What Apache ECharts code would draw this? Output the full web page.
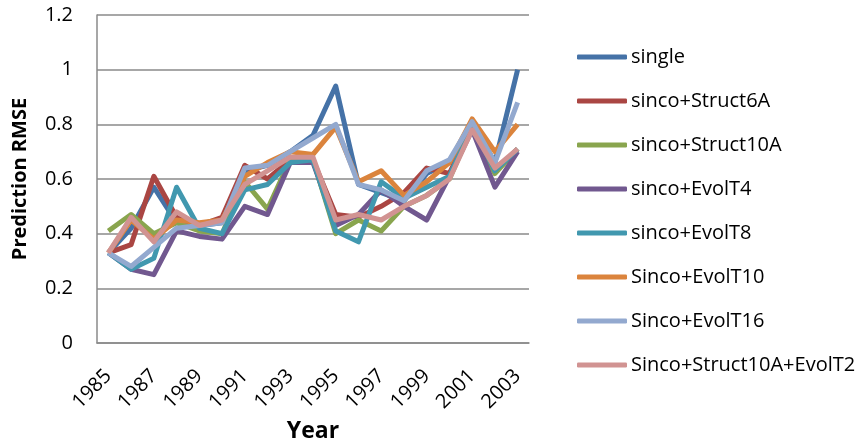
<!DOCTYPE html>
<html>
<head>
<meta charset="utf-8">
<title>Prediction RMSE by year</title>
<script src="https://cdn.jsdelivr.net/npm/echarts@6/dist/echarts.min.js"></script>
<style>
  html, body { margin: 0; padding: 0; background: #ffffff; }
  #chart { width: 868px; height: 448px; }
</style>
</head>
<body>
<div id="chart"></div>
<script>
// Years on the category axis
const years = ['1985','1986','1987','1988','1989','1990','1991','1992','1993','1994',
               '1995','1996','1997','1998','1999','2000','2001','2002','2003'];

// Prediction RMSE per method, one value per year
const single        = [0.33, 0.42, 0.57, 0.44, 0.43, 0.44, 0.63, 0.65, 0.70, 0.76, 0.94, 0.58, 0.55, 0.52, 0.62, 0.66, 0.81, 0.66, 1.00];
const struct6A      = [0.33, 0.36, 0.61, 0.46, 0.43, 0.46, 0.65, 0.60, 0.67, 0.67, 0.47, 0.46, 0.50, 0.55, 0.64, 0.62, 0.80, 0.63, 0.71];
const struct10A     = [0.41, 0.47, 0.40, 0.44, 0.41, 0.40, 0.59, 0.49, 0.67, 0.67, 0.40, 0.45, 0.41, 0.50, 0.54, 0.60, 0.79, 0.62, 0.71];
const evolT4        = [0.33, 0.27, 0.25, 0.41, 0.39, 0.38, 0.50, 0.47, 0.66, 0.66, 0.43, 0.47, 0.56, 0.50, 0.45, 0.61, 0.78, 0.57, 0.70];
const evolT8        = [0.33, 0.27, 0.31, 0.57, 0.42, 0.40, 0.56, 0.58, 0.66, 0.67, 0.41, 0.37, 0.59, 0.53, 0.57, 0.61, 0.80, 0.63, 0.71];
const evolT10       = [0.33, 0.45, 0.38, 0.45, 0.44, 0.45, 0.61, 0.66, 0.70, 0.69, 0.79, 0.59, 0.63, 0.54, 0.59, 0.66, 0.82, 0.70, 0.80];
const evolT16       = [0.33, 0.28, 0.35, 0.42, 0.43, 0.44, 0.64, 0.65, 0.70, 0.75, 0.80, 0.58, 0.56, 0.52, 0.63, 0.67, 0.81, 0.66, 0.88];
const struct10AT2   = [0.33, 0.46, 0.37, 0.48, 0.43, 0.45, 0.58, 0.63, 0.68, 0.68, 0.45, 0.47, 0.45, 0.50, 0.54, 0.60, 0.78, 0.64, 0.71];

const seriesNames = ['single', 'sinco+Struct6A', 'sinco+Struct10A', 'sinco+EvolT4',
                     'sinco+EvolT8', 'Sinco+EvolT10', 'Sinco+EvolT16', 'Sinco+Struct10A+EvolT2'];
const seriesValues = [single, struct6A, struct10A, evolT4, evolT8, evolT10, evolT16, struct10AT2];
const seriesColors = ['#4572A7', '#AA4643', '#89A54E', '#71588F', '#4198AF', '#DB843D', '#93A9CF', '#D19392'];

const yTicks = { min: 0, max: 1.2, step: 0.2 };

const FONT = 'Open Sans';
const GRID_GRAY = '#8a8a8a';

const chart = echarts.init(document.getElementById('chart'), null, { renderer: 'canvas' });

chart.setOption({
  animation: false,
  backgroundColor: '#ffffff',
  color: seriesColors,
  textStyle: { fontFamily: FONT, color: '#000000' },
  grid: { left: 97, right: 339, top: 15, bottom: 105, containLabel: false },
  legend: {
    orient: 'vertical',
    left: 572,
    top: 40,
    icon: 'roundRect',
    itemWidth: 50,
    itemHeight: 5,
    itemGap: 20,
    textStyle: { fontFamily: FONT, fontSize: 20, lineHeight: 24, color: '#000000', padding: [0, 0, 0, -1] },
    data: seriesNames
  },
  xAxis: {
    type: 'category',
    data: years,
    boundaryGap: true,
    name: 'Year',
    nameLocation: 'middle',
    nameGap: 77,
    nameTextStyle: { fontFamily: FONT, fontSize: 23, fontWeight: 'bold', color: '#000000' },
    axisLine: { show: true, lineStyle: { color: GRID_GRAY, width: 1.5 } },
    axisTick: { show: false },
    axisLabel: {
      interval: 1,
      rotate: 45,
      margin: 30,
      fontFamily: FONT,
      fontSize: 20,
      color: '#000000'
    },
    splitLine: { show: false }
  },
  yAxis: {
    type: 'value',
    min: yTicks.min,
    max: yTicks.max,
    interval: yTicks.step,
    name: 'Prediction RMSE',
    nameLocation: 'middle',
    nameGap: 67,
    nameTextStyle: { fontFamily: FONT, fontSize: 20, fontWeight: 'bold', color: '#000000' },
    axisLine: { show: true, lineStyle: { color: GRID_GRAY, width: 1.5 } },
    axisTick: { show: false },
    axisLabel: { margin: 24, fontFamily: FONT, fontSize: 20, color: '#000000' },
    splitLine: { show: true, lineStyle: { color: GRID_GRAY, width: 1.5 } }
  },
  series: seriesNames.map((name, i) => ({
    name: name,
    type: 'line',
    data: seriesValues[i],
    showSymbol: false,
    symbol: 'none',
    lineStyle: { width: 5, color: seriesColors[i], join: 'round' },
    itemStyle: { color: seriesColors[i] },
    emphasis: { disabled: true },
    z: 2 + i
  }))
});
</script>
</body>
</html>
